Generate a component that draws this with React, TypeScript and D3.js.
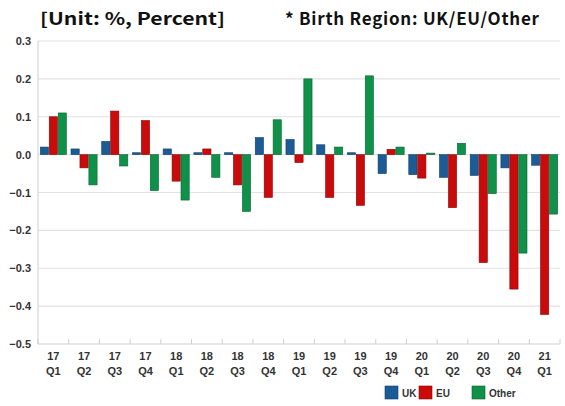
import { useEffect, useRef } from 'react';
import * as d3 from 'd3';

const quarters = ['17 Q1', '17 Q2', '17 Q3', '17 Q4', '18 Q1', '18 Q2', '18 Q3', '18 Q4', '19 Q1', '19 Q2', '19 Q3', '19 Q4', '20 Q1', '20 Q2', '20 Q3', '20 Q4', '21 Q1'];
const seriesNames = ['UK', 'EU', 'Other'];
const ukValues = [0.02, 0.015, 0.035, 0.005, 0.015, 0.005, 0.005, 0.045, 0.04, 0.026, 0.005, -0.05, -0.053, -0.06, -0.055, -0.035, -0.028];
const euValues = [0.1, -0.035, 0.115, 0.09, -0.07, 0.015, -0.08, -0.113, -0.021, -0.113, -0.134, 0.014, -0.062, -0.14, -0.285, -0.355, -0.422];
const otherValues = [0.11, -0.08, -0.03, -0.095, -0.12, -0.06, -0.15, 0.092, 0.2, 0.02, 0.208, 0.02, 0.004, 0.03, -0.103, -0.26, -0.157];
const yTicks = [0.3, 0.2, 0.1, 0.0, -0.1, -0.2, -0.3, -0.4, -0.5];
const colors = ['#1b5c96', '#c90b0b', '#10914a'];
const strokes = ['#123f69', '#8a0606', '#0a6332'];

export default function App() {
  const svgRef = useRef<SVGSVGElement>(null);

  useEffect(() => {
    if (!svgRef.current) return;
    const svg = d3.select(svgRef.current);
    svg.selectAll('*').remove();

    const left = 38, right = 560, top = 41, bottom = 344;
    const values = [ukValues, euValues, otherValues];

    const y = d3.scaleLinear().domain([-0.5, 0.3]).range([bottom, top]);
    const x = d3.scaleBand().domain(quarters).range([left, right]).paddingInner(0.15).paddingOuter(0.075);
    const xs = d3.scaleBand().domain(seriesNames).range([0, x.bandwidth()]).paddingInner(0.08);

    // titles
    svg.append('text').attr('x', 40).attr('y', 25)
      .attr('font-family', '"Noto Sans CJK KR", "Noto Sans", sans-serif')
      .attr('font-weight', 700).attr('font-size', 17).attr('fill', '#111')
      .attr('textLength', 185).attr('lengthAdjust', 'spacingAndGlyphs')
      .text('[Unit: %, Percent]');
    svg.append('text').attr('x', 285).attr('y', 25)
      .attr('font-family', '"Noto Sans CJK KR", "Noto Sans", sans-serif')
      .attr('font-weight', 700).attr('font-size', 17).attr('fill', '#111')
      .attr('textLength', 254).attr('lengthAdjust', 'spacing')
      .text('* Birth Region: UK/EU/Other');

    // gridlines
    svg.append('g').selectAll('line').data(yTicks.filter(d => d !== -0.5)).join('line')
      .attr('x1', left).attr('x2', right)
      .attr('y1', d => y(d)).attr('y2', d => y(d))
      .attr('stroke', '#e2e2e2').attr('stroke-width', 1.2);

    // y labels
    svg.append('g').selectAll('text').data(yTicks).join('text')
      .attr('x', 31).attr('y', d => y(d) + 4)
      .attr('text-anchor', 'end')
      .attr('font-family', '"Liberation Sans", Arial, sans-serif')
      .attr('font-weight', 700).attr('font-size', 11).attr('fill', '#333')
      .text(d => d3.format('.1f')(d));

    // axes
    svg.append('line').attr('x1', left).attr('x2', left).attr('y1', top).attr('y2', bottom)
      .attr('stroke', '#cfcfcf').attr('stroke-width', 1);
    svg.append('line').attr('x1', left).attr('x2', right).attr('y1', bottom).attr('y2', bottom)
      .attr('stroke', '#cfcfcf').attr('stroke-width', 1);
    const step = x.step();
    svg.append('g').selectAll('line').data(d3.range(quarters.length + 1)).join('line')
      .attr('x1', i => left + i * step).attr('x2', i => left + i * step)
      .attr('y1', bottom).attr('y2', bottom - 5)
      .attr('stroke', '#cfcfcf');

    // bars
    const groups = svg.append('g').selectAll('g').data(quarters).join('g')
      .attr('transform', d => `translate(${x(d)},0)`);
    seriesNames.forEach((s, si) => {
      groups.append('rect')
        .attr('x', xs(s)!)
        .attr('width', xs.bandwidth())
        .attr('y', (_, i) => y(Math.max(0, values[si][i])))
        .attr('height', (_, i) => Math.max(1, Math.abs(y(values[si][i]) - y(0))))
        .attr('fill', colors[si])
        .attr('stroke', strokes[si]).attr('stroke-width', 0.6);
    });

    // x labels
    const xl = svg.append('g').selectAll('text').data(quarters).join('text')
      .attr('text-anchor', 'middle')
      .attr('font-family', '"Liberation Sans", Arial, sans-serif')
      .attr('font-weight', 700).attr('font-size', 11).attr('fill', '#333');
    xl.append('tspan').attr('x', d => x(d)! + x.bandwidth() / 2).attr('y', 360).text(d => d.split(' ')[0]);
    xl.append('tspan').attr('x', d => x(d)! + x.bandwidth() / 2).attr('y', 375).text(d => d.split(' ')[1]);

    // legend
    const legendX = [385, 419, 472];
    seriesNames.forEach((s, i) => {
      svg.append('rect').attr('x', legendX[i]).attr('y', 386).attr('width', 13).attr('height', 13)
        .attr('fill', colors[i]).attr('stroke', strokes[i]).attr('stroke-width', 0.6);
      svg.append('text').attr('x', legendX[i] + 17).attr('y', 397)
        .attr('font-family', '"Liberation Sans", Arial, sans-serif')
        .attr('font-weight', 700).attr('font-size', 10).attr('fill', '#333')
        .text(s);
    });
  }, []);

  return <svg ref={svgRef} width={565} height={406} style={{ position: 'absolute', left: 0, top: 0, background: '#fff' }} />;
}
